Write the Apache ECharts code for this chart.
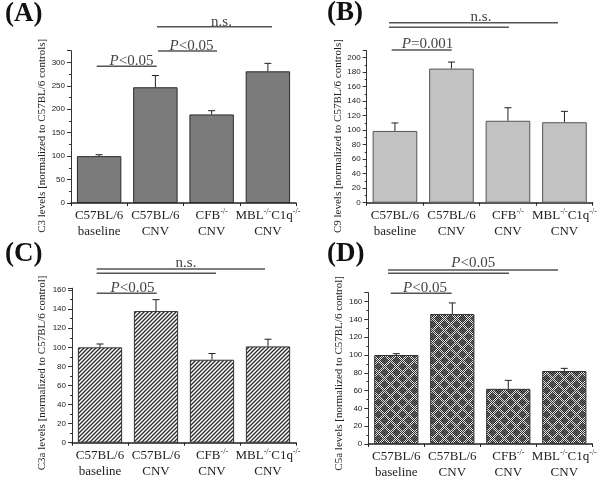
<!DOCTYPE html>
<html><head><meta charset="utf-8">
<script src="https://cdn.jsdelivr.net/npm/echarts@6/dist/echarts.min.js"></script>
<style>html,body{margin:0;padding:0;background:#fff}#c{width:602px;height:481px}</style>
</head><body><div id="c"></div>
<script>
// ---- data ----
const categories = ['C57BL/6\nbaseline', 'C57BL/6\nCNV', 'CFB{s|-/-}\nCNV', 'MBL{s|-/-}C1q{s|-/-}\nCNV'];
const c3Mean = [100, 247, 189, 281];
const c3Err = [3, 25, 8, 17];
const c9Mean = [99, 185, 113, 111];
const c9Err = [11, 9, 18, 15];
const c3aMean = [100, 138, 87, 101];
const c3aErr = [3.5, 12, 6.5, 7.5];
const c5aMean = [100, 146, 62, 82];
const c5aErr = [1.5, 12.5, 9.5, 3];
const yNames = [
  'C3 levels [normalized to C57BL/6 controls]',
  'C9 levels [normalized to C57BL/6 controls]',
  'C3a levels [normalized to C57BL/6 control]',
  'C5a levels [normalized to C57BL/6 control]'
];
const panelLetters = ['(A)', '(B)', '(C)', '(D)'];
const yMax = [325, 210, 162, 170];
const yInterval = [50, 20, 20, 20];

// ---- patterns ----
function hatchPattern() {
  const c = document.createElement('canvas'); c.width = 4; c.height = 4;
  const g = c.getContext('2d');
  g.fillStyle = '#ffffff'; g.fillRect(0, 0, 4, 4);
  g.strokeStyle = '#2a2a2a'; g.lineWidth = 1.3;
  g.beginPath();
  g.moveTo(-1, 5); g.lineTo(5, -1);
  g.moveTo(-1, 1); g.lineTo(1, -1);
  g.moveTo(3, 5); g.lineTo(5, 3);
  g.stroke();
  return c;
}
function diamondPattern() {
  const n = 12;
  const c = document.createElement('canvas'); c.width = n; c.height = n;
  const g = c.getContext('2d');
  for (let y = 0; y < n; y++) for (let x = 0; x < n; x++) {
    const d = Math.abs(x - 6) + Math.abs(y - 6);
    const dc = Math.min(x + y, (n - x) + y, x + (n - y), (n - x) + (n - y));
    let col;
    if ((x + y) % 2 === 0) col = '#2e2e2e';
    else if (d <= 3 || dc <= 3) col = '#6a6a6a';
    else col = '#e4e4e4';
    g.fillStyle = col; g.fillRect(x, y, 1, 1);
  }
  return c;
}

const fills = ['#7b7b7b', '#c2c2c2', { image: hatchPattern(), repeat: 'repeat' }, { image: diamondPattern(), repeat: 'repeat' }];
const borders = ['#2a2a2a', '#555555', '#333333', '#333333'];
const means = [c3Mean, c9Mean, c3aMean, c5aMean];
const errs = [c3Err, c9Err, c3aErr, c5aErr];

const grids = [
  { left: 71, top: 50.7, width: 225, height: 152.3 },
  { left: 366.7, top: 50.45, width: 226, height: 152.25 },
  { left: 72, top: 288.2, width: 224, height: 154.5 },
  { left: 368.3, top: 292.7, width: 224, height: 152.3 }
];
const nameGaps = [23, 18, 24, 20];
const namePads = [18, 19, 15, 10];

const serif = 'Liberation Serif';

const xAxes = [], yAxes = [], series = [];
for (let i = 0; i < 4; i++) {
  xAxes.push({
    type: 'category', gridIndex: i, data: categories,
    axisLine: { lineStyle: { color: '#222', width: 1.5 } },
    axisTick: { show: true, length: 3, lineStyle: { color: '#222' } },
    axisLabel: {
      interval: 0, fontFamily: serif, fontSize: 13, color: '#222', lineHeight: 16, margin: 5,
      rich: { s: { fontFamily: serif, fontSize: 8, color: '#222', verticalAlign: 'top', lineHeight: 16 } }
    }
  });
  const iv = yInterval[i];
  yAxes.push({
    type: 'value', gridIndex: i, min: 0, max: yMax[i], interval: iv,
    name: yNames[i], nameLocation: 'middle', nameGap: nameGaps[i],
    nameTextStyle: { fontFamily: serif, fontSize: 11, color: '#222', padding: [0, namePads[i], 0, 0] },
    axisLine: { show: true, lineStyle: { color: '#333', width: 1 } },
    axisTick: { show: true, length: 4, lineStyle: { color: '#333' } },
    minorTick: { show: true, splitNumber: 2, length: 2, lineStyle: { color: '#333' } },
    splitLine: { show: false },
    axisLabel: {
      fontFamily: 'Liberation Sans', fontSize: 8, color: '#222', margin: 6,
      formatter: v => (v % iv === 0 ? String(v) : '')
    }
  });
  series.push({
    type: 'bar', xAxisIndex: i, yAxisIndex: i, data: means[i], barWidth: '79%',
    itemStyle: { color: fills[i], borderColor: borders[i], borderWidth: 1 },
    silent: true, animation: false
  });
  series.push({
    type: 'custom', xAxisIndex: i, yAxisIndex: i, z: 5, clip: false, animation: false,
    data: means[i].map((m, k) => [k, m, errs[i][k]]),
    encode: { x: 0, y: 1 },
    renderItem: (params, api) => {
      const x = api.value(0), m = api.value(1), e = api.value(2);
      const p0 = api.coord([x, m]), p1 = api.coord([x, m + e]);
      const w = 7;
      return {
        type: 'group', children: [
          { type: 'line', shape: { x1: p0[0], y1: p0[1], x2: p1[0], y2: p1[1] }, style: { stroke: '#222', lineWidth: 1 } },
          { type: 'line', shape: { x1: p1[0] - w / 2, y1: p1[1], x2: p1[0] + w / 2, y2: p1[1] }, style: { stroke: '#222', lineWidth: 1 } }
        ]
      };
    }
  });
}

// ---- significance annotations (pixel layout) ----
const brackets = [
  [96.7, 156.7, 66.3], [158, 217, 51], [157, 272, 26.7],
  [391.7, 451.7, 50], [389, 558, 22.7], [389, 509, 27.3],
  [96.7, 156.7, 293.3], [96.7, 265, 269], [96.7, 216, 273.3],
  [390.7, 451.7, 293.3], [388, 558, 270], [388, 509, 273.3]
];
const labels = [
  ['{i|P}<0.05', 131.5, 66], ['{i|P}<0.05', 191.5, 50.5], ['n.s.', 221.5, 26.5],
  ['{i|P}=0.001', 427.5, 49], ['n.s.', 481, 21.5],
  ['{i|P}<0.05', 132.5, 292.5], ['n.s.', 186, 267.5],
  ['{i|P}<0.05', 425, 293], ['{i|P}<0.05', 473.3, 267.5]
];
const letterPos = [[5, 1], [327, 0], [5, 241], [327, 241]];

const graphic = [];
brackets.forEach(b => graphic.push({
  type: 'line', silent: true,
  shape: { x1: b[0], y1: b[2], x2: b[1], y2: b[2] },
  style: { stroke: '#555', lineWidth: 1.5 }
}));
labels.forEach(l => graphic.push({
  type: 'text', silent: true, x: l[1], y: l[2] + 3,
  style: {
    text: l[0], fill: '#444', fontFamily: serif, fontSize: 15, align: 'center', verticalAlign: 'bottom',
    rich: { i: { fontFamily: serif, fontSize: 15, fontStyle: 'italic', fill: '#444' } }
  }
}));
panelLetters.forEach((t, i) => graphic.push({
  type: 'text', silent: true, x: letterPos[i][0], y: letterPos[i][1],
  style: { text: t, fill: '#111', fontFamily: serif, fontSize: 27, fontWeight: 'bold', align: 'left', verticalAlign: 'top' }
}));

const chart = echarts.init(document.getElementById('c'), null, { renderer: 'canvas' });
chart.setOption({
  animation: false,
  backgroundColor: '#fff',
  grid: grids,
  xAxis: xAxes,
  yAxis: yAxes,
  series: series,
  graphic: graphic
});
</script></body></html>
